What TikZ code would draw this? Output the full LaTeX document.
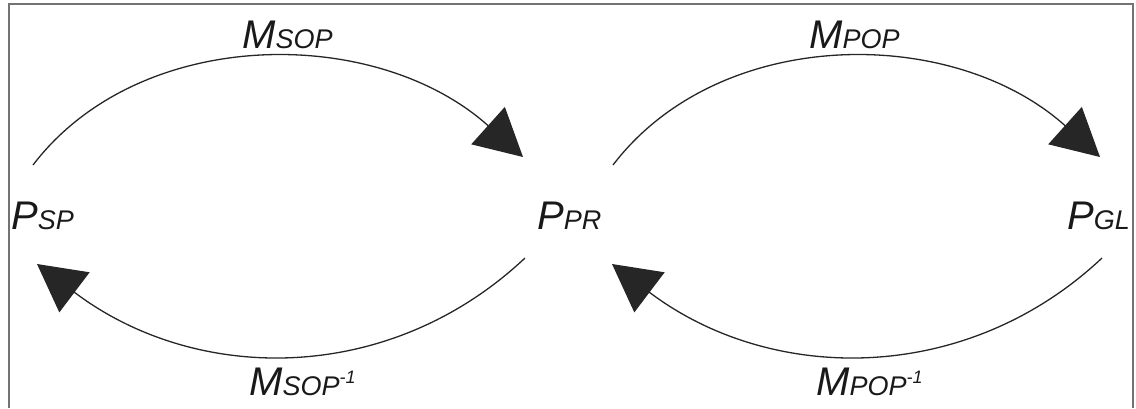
\documentclass[tikz,border=0pt]{standalone}
\usepackage{fontspec}
\setmainfont{Liberation Sans}
\usetikzlibrary{arrows.meta}
\newcommand\Lbig{\fontsize{40}{41}\selectfont}
\newcommand\Lsub{\fontsize{27}{28}\selectfont}
\newcommand\Lsup{\fontsize{18}{18}\selectfont}
\begin{document}
\begin{tikzpicture}[x=1pt,y=-1pt,
  conn/.style={line width=1.3pt, draw=black!85, -{Triangle[length=47pt,width=50pt]}},
  lbl/.style={inner sep=0pt, anchor=base west, font=\itshape, text=black!90},
  frame/.style={line width=2pt, draw=black!55}]
\useasboundingbox (0,0) rectangle (1136,408);
\draw[frame] (8.5,408) -- (8.5,4) -- (1133,4) -- (1133,408);

% state nodes
\node[lbl] (Psp) at (11,229) {{\Lbig P}{\Lsub SP}};
\node[lbl] (Ppr) at (537,229) {{\Lbig P}{\Lsub PR}};
\node[lbl] (Pgl) at (1067,229) {{\Lbig P}{\Lsub GL}};

% map labels
\node[lbl] (Msop) at (242,48) {{\Lbig M}{\Lsub SOP}};
\node[lbl] (Mpop) at (809,48) {{\Lbig M}{\Lsub POP}};
\node[lbl] (Msopi) at (249,395) {{\Lbig M}{\Lsub SOP}\raisebox{12pt}{\Lsup -1}};
\node[lbl] (Mpopi) at (816,395) {{\Lbig M}{\Lsub POP}\raisebox{12pt}{\Lsup -1}};

% connector ends
\coordinate (a1) at (33,165);
\coordinate (a2) at (523,157);
\coordinate (b1) at (613,165);
\coordinate (b2) at (1100,157);
\coordinate (c1) at (525,258);
\coordinate (c2) at (37,264);
\coordinate (d1) at (1102,258);
\coordinate (d2) at (612,264);

\draw[conn] (a1) .. controls (140,25) and (376,25) .. (a2);
\draw[conn] (b1) .. controls (720,25) and (953,25) .. (b2);
\draw[conn] (c1) .. controls (390,385) and (197,385) .. (c2);
\draw[conn] (d1) .. controls (967,385) and (772,385) .. (d2);
\end{tikzpicture}
\end{document}
